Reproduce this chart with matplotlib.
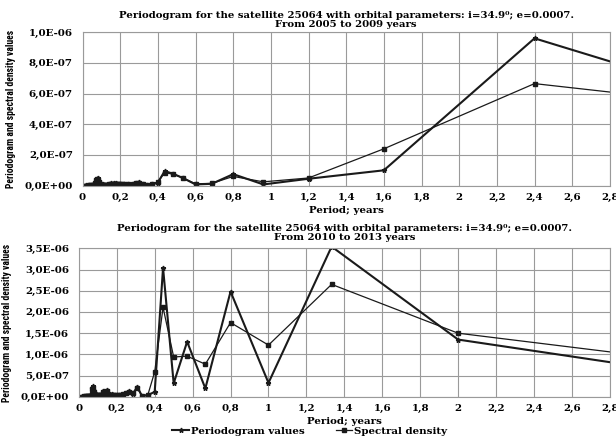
import matplotlib
matplotlib.use("Agg")
import matplotlib.pyplot as plt
from matplotlib import font_manager
from matplotlib.ticker import FuncFormatter, MultipleLocator

# ---- 2005-2009 (values in 1e-6) ----
per_a = [4.8, 2.4, 1.6, 1.2, 0.96, 0.8, 0.686, 0.6, 0.533, 0.48,
         0.436, 0.4, 0.369, 0.343, 0.32, 0.3, 0.282, 0.267, 0.253, 0.24,
         0.229, 0.218, 0.209, 0.2, 0.192, 0.185, 0.178, 0.171, 0.166, 0.16,
         0.15, 0.141, 0.133, 0.126, 0.12, 0.114, 0.107, 0.1, 0.092, 0.086,
         0.08, 0.075, 0.0706, 0.0667, 0.06, 0.053, 0.048, 0.04, 0.032, 0.024,
         0.016, 0.01]
pgram_a = [0.06, 0.96, 0.10, 0.045, 0.008, 0.075, 0.012, 0.008, 0.05, 0.078,
           0.095, 0.02, 0.008, 0.005, 0.012, 0.025, 0.015, 0.008, 0.006, 0.01,
           0.005, 0.012, 0.006, 0.014, 0.008, 0.012, 0.016, 0.01, 0.018, 0.012,
           0.016, 0.008, 0.005, 0.003, 0.006, 0.004, 0.008, 0.005, 0.012, 0.03,
           0.052, 0.045, 0.03, 0.012, 0.004, 0.002, 0.004, 0.001, 0.003, 0.001,
           0.002, 0.001]
spec_a = [0.335, 0.665, 0.24, 0.05, 0.025, 0.06, 0.015, 0.012, 0.05, 0.075,
          0.085, 0.025, 0.01, 0.007, 0.012, 0.02, 0.015, 0.01, 0.007, 0.008,
          0.007, 0.01, 0.008, 0.01, 0.01, 0.012, 0.013, 0.012, 0.014, 0.013,
          0.012, 0.01, 0.006, 0.005, 0.005, 0.005, 0.006, 0.007, 0.01, 0.022,
          0.04, 0.045, 0.035, 0.015, 0.006, 0.003, 0.003, 0.002, 0.002, 0.001,
          0.001, 0.001]

# ---- 2010-2013 (values in 1e-6) ----
per_b = [4.0, 2.0, 1.333, 1.0, 0.8, 0.667, 0.571, 0.5, 0.444, 0.4,
         0.364, 0.333, 0.308, 0.286, 0.267, 0.25, 0.235, 0.222, 0.211, 0.2,
         0.19, 0.182, 0.174, 0.167, 0.16, 0.154, 0.148, 0.143, 0.138, 0.133,
         0.129, 0.125, 0.118, 0.111, 0.105, 0.1, 0.095, 0.091, 0.087, 0.083,
         0.08, 0.077, 0.074, 0.071, 0.069, 0.067, 0.0625, 0.059, 0.056, 0.05,
         0.044, 0.04, 0.033, 0.025, 0.02, 0.013]
pgram_b = [0.02, 1.35, 3.54, 0.33, 2.48, 0.2, 1.30, 0.32, 3.04, 0.12,
           0.04, 0.02, 0.24, 0.08, 0.14, 0.1, 0.05, 0.04, 0.05, 0.04,
           0.05, 0.04, 0.06, 0.04, 0.05, 0.06, 0.16, 0.12, 0.08, 0.13,
           0.06, 0.14, 0.04, 0.03, 0.05, 0.03, 0.04, 0.06, 0.05, 0.03,
           0.12, 0.26, 0.1, 0.22, 0.06, 0.03, 0.02, 0.01, 0.02, 0.01,
           0.01, 0.01, 0.005, 0.01, 0.005, 0.005]
spec_b = [0.40, 1.50, 2.65, 1.22, 1.75, 0.77, 0.96, 0.94, 2.11, 0.59,
          0.05, 0.03, 0.2, 0.09, 0.12, 0.1, 0.06, 0.05, 0.05, 0.05,
          0.05, 0.05, 0.05, 0.05, 0.05, 0.07, 0.14, 0.12, 0.09, 0.11,
          0.08, 0.11, 0.05, 0.04, 0.04, 0.04, 0.04, 0.05, 0.05, 0.05,
          0.12, 0.22, 0.14, 0.18, 0.08, 0.04, 0.02, 0.015, 0.015, 0.01,
          0.01, 0.01, 0.008, 0.01, 0.006, 0.005]

title_a = "Periodogram for the satellite 25064 with orbital parameters: i=34.9\u2070; e=0.0007.\nFrom 2005 to 2009 years"
title_b = "Periodogram for the satellite 25064 with orbital parameters: i=34.9\u2070; e=0.0007.\nFrom 2010 to 2013 years"
ylab = "Periodogram and spectral density values"

serif = ["DejaVu Serif"]
ink = "#1a1a1a"

# a narrow sans for the y labels, if one is around
names = {f.name for f in font_manager.fontManager.ttflist}
narrow = "Liberation Sans"
for cand in ["Liberation Sans Narrow", "Roboto Condensed", "DejaVu Sans Condensed",
             "Open Sans Condensed", "Noto Sans Condensed"]:
    if cand in names:
        narrow = cand
        break

fig = plt.figure(figsize=(6.16, 4.41), dpi=100)
ax1 = fig.add_axes([0.134, 0.579, 0.856, 0.348])
ax2 = fig.add_axes([0.128, 0.100, 0.862, 0.337])

yfmt = FuncFormatter(lambda v, p: f"{v:.1E}".replace(".", ","))
xfmt = FuncFormatter(lambda v, p: f"{round(v, 1):g}".replace(".", ","))

def draw(ax, per, pg, sd, ymax, ystep, title, tpad):
    ax.plot(per, [v * 1e-6 for v in pg], color=ink, lw=1.5, marker="*", ms=3.5,
            label="Periodogram values")
    ax.plot(per, [v * 1e-6 for v in sd], color=ink, lw=0.9, marker="s", ms=2.5,
            label="Spectral density")
    ax.set_xlim(0, 2.8)
    ax.set_ylim(0, ymax)
    ax.xaxis.set_major_locator(MultipleLocator(0.2))
    ax.yaxis.set_major_locator(MultipleLocator(ystep))
    ax.xaxis.set_major_formatter(xfmt)
    ax.yaxis.set_major_formatter(yfmt)
    ax.grid(True, color="#9a9a9a", lw=0.8)
    for s in ax.spines.values():
        s.set_color("#9a9a9a")
        s.set_linewidth(0.8)
    ax.tick_params(axis="y", length=0, pad=7, labelsize=7.4)
    ax.tick_params(axis="x", length=0, pad=5, labelsize=7.4)
    for lab in ax.get_xticklabels() + ax.get_yticklabels():
        lab.set_family(serif)
        lab.set_fontweight("bold")
    ax.set_xlabel("Period; years", family=serif, fontweight="bold", fontsize=7.4, labelpad=3)
    ax.set_ylabel(ylab, family=narrow, fontweight="bold", fontsize=6, labelpad=6)
    ax.set_title(title, family=serif, fontweight="bold", fontsize=7.3, pad=tpad, linespacing=1.0)

draw(ax1, per_a, pgram_a, spec_a, 1.0e-6, 0.2e-6, title_a, 4)
draw(ax2, per_b, pgram_b, spec_b, 3.5e-6, 0.5e-6, title_b, 6)

# size the y labels so they span roughly the height they do in the original
fig.canvas.draw()
r = fig.canvas.get_renderer()
for ax in (ax1, ax2):
    lab = ax.yaxis.label
    hgt = lab.get_window_extent(r).height
    lab.set_fontsize(6 * 156 / hgt)

h, l = ax2.get_legend_handles_labels()
fig.legend(h, l, loc="center", bbox_to_anchor=(0.503, 0.022), ncol=2, frameon=False,
           prop={"family": serif, "weight": "bold", "size": 7.4}, handlelength=1.6,
           handletextpad=0.2, columnspacing=3.0, borderaxespad=0)

fig.savefig("out.png", dpi=100)
